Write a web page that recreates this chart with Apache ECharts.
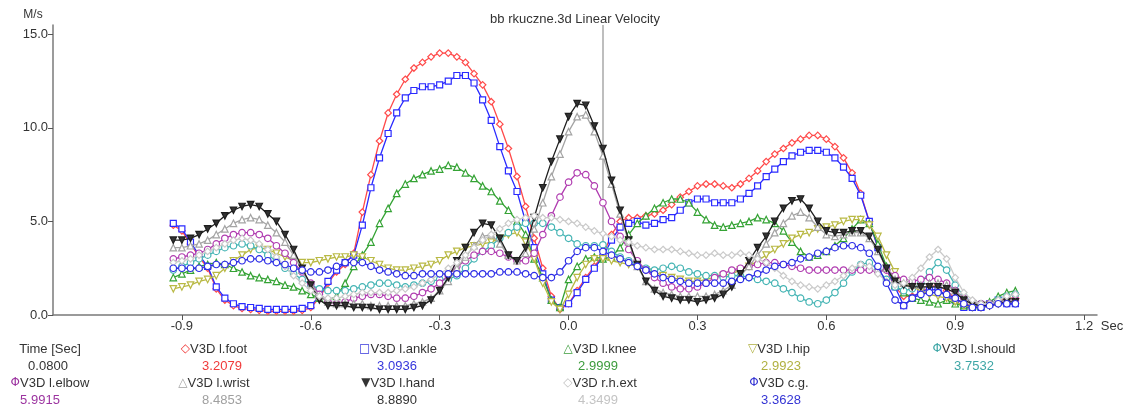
<!DOCTYPE html>
<html>
<head>
<meta charset="utf-8">
<script src="https://cdn.jsdelivr.net/npm/echarts@6/dist/echarts.min.js"></script>
<style>
  html, body { margin: 0; padding: 0; background: #fff; }
  #chart { width: 1132px; height: 407px; }
</style>
</head>
<body>
<div id="chart"></div>
<script>
// time samples (sec)
const times = [
  -0.92, -0.90, -0.88, -0.86, -0.84, -0.82, -0.80, -0.78, -0.76, -0.74,
  -0.72, -0.70, -0.68, -0.66, -0.64, -0.62, -0.60, -0.58, -0.56, -0.54,
  -0.52, -0.50, -0.48, -0.46, -0.44, -0.42, -0.40, -0.38, -0.36, -0.34,
  -0.32, -0.30, -0.28, -0.26, -0.24, -0.22, -0.20, -0.18, -0.16, -0.14,
  -0.12, -0.10, -0.08, -0.06, -0.04, -0.02, 0.00, 0.02, 0.04, 0.06,
  0.08, 0.10, 0.12, 0.14, 0.16, 0.18, 0.20, 0.22, 0.24, 0.26,
  0.28, 0.30, 0.32, 0.34, 0.36, 0.38, 0.40, 0.42, 0.44, 0.46,
  0.48, 0.50, 0.52, 0.54, 0.56, 0.58, 0.60, 0.62, 0.64, 0.66,
  0.68, 0.70, 0.72, 0.74, 0.76, 0.78, 0.80, 0.82, 0.84, 0.86,
  0.88, 0.90, 0.92, 0.94, 0.96, 0.98, 1.00, 1.02, 1.04
]

// linear velocity, M/s
const foot = [
  4.8, 4.5, 3.8, 3.1, 2.5, 1.4, 0.8, 0.5, 0.35, 0.3,
  0.25, 0.2, 0.2, 0.2, 0.2, 0.25, 0.4, 0.9, 1.7, 2.3,
  2.7, 3.3, 5.5, 7.5, 9.3, 10.8, 11.8, 12.6, 13.2, 13.5,
  13.8, 14.0, 14.0, 13.8, 13.5, 12.9, 12.3, 11.4, 10.2, 8.9,
  7.4, 5.8, 4.1, 2.5, 1.0, 0.3, 0.6, 1.3, 2.0, 2.6,
  3.2, 4.3, 5.0, 5.2, 5.2, 5.3, 5.4, 5.6, 5.9, 6.3,
  6.6, 6.9, 7.0, 7.0, 6.9, 6.8, 7.0, 7.3, 7.7, 8.2,
  8.6, 8.9, 9.2, 9.4, 9.6, 9.6, 9.4, 9.0, 8.4, 7.6,
  6.5, 5.0, 3.6, 2.4, 1.5, 1.0, 1.0, 1.2, 1.5, 1.6,
  1.3, 0.9, 0.6, 0.5, 0.4, 0.5, 0.8, 0.9, 0.9
]
const ankle = [
  4.9, 4.6, 3.9, 3.2, 2.6, 1.5, 0.9, 0.6, 0.45, 0.4,
  0.35, 0.3, 0.3, 0.3, 0.3, 0.35, 0.5, 1.0, 1.8, 2.4,
  2.8, 3.2, 4.8, 6.8, 8.4, 9.7, 10.8, 11.6, 12.0, 12.2,
  12.2, 12.3, 12.5, 12.8, 12.8, 12.4, 11.5, 10.4, 9.0, 7.7,
  6.6, 5.0, 3.6, 2.2, 0.8, 0.4, 0.6, 1.2, 1.9, 2.5,
  3.1, 4.0, 4.7, 4.9, 5.0, 4.8, 4.9, 5.1, 5.2, 5.6,
  6.0, 6.2, 6.2, 6.0, 6.0, 6.0, 6.2, 6.5, 6.9, 7.4,
  7.8, 8.2, 8.5, 8.7, 8.8, 8.8, 8.7, 8.4, 7.9, 7.3,
  6.4, 5.0, 3.6, 2.5, 1.5, 0.5, 0.9, 1.3, 1.3, 1.4,
  1.0, 0.8, 0.4, 0.4, 0.4, 0.6, 0.8, 0.6, 0.6
]
const knee = [
  2.0, 2.2, 2.4, 2.6, 2.7, 2.8, 2.7, 2.5, 2.3, 2.1,
  2.0, 1.9, 1.8, 1.6, 1.5, 1.3, 1.1, 0.9, 0.8, 1.0,
  1.7, 2.6, 3.2, 3.9, 4.9, 5.7, 6.5, 7.0, 7.3, 7.5,
  7.7, 7.8, 8.0, 7.9, 7.6, 7.3, 6.9, 6.6, 6.1, 5.6,
  5.0, 4.3, 3.0, 2.0, 0.8, 0.4, 1.9, 2.6, 3.0, 3.1,
  3.0, 3.1, 3.6, 4.3, 4.9, 5.3, 5.7, 6.0, 6.2, 6.2,
  6.0, 5.5, 5.1, 4.8, 4.7, 4.8, 4.9, 5.0, 5.2, 5.1,
  4.9, 4.5, 3.9, 3.4, 3.1, 3.2, 3.4, 3.7, 4.1, 4.6,
  5.1, 4.9, 3.8, 2.6, 1.6, 1.2, 0.9, 0.8, 0.7, 0.6,
  0.8, 0.6, 0.5, 0.5, 0.5, 0.7, 1.0, 1.2, 1.3
]
const hip = [
  1.4, 1.5, 1.6, 1.8, 1.9, 2.1, 2.5, 2.9, 3.2, 3.5,
  3.6, 3.5, 3.3, 3.1, 2.9, 2.8, 2.8, 2.9, 3.0, 3.1,
  3.1, 3.2, 3.1, 2.9, 2.7, 2.5, 2.4, 2.4, 2.5, 2.6,
  2.7, 2.9, 3.2, 3.4, 3.6, 3.7, 3.8, 3.9, 4.1, 4.3,
  4.4, 3.9, 3.0, 1.7, 0.7, 0.3, 1.1, 2.0, 2.7, 3.0,
  3.0, 2.9, 2.8, 2.7, 2.6, 2.4, 2.3, 2.1, 2.0, 1.9,
  1.8, 1.8, 1.9, 2.0, 2.1, 2.2, 2.4, 2.6, 2.9, 3.2,
  3.5, 3.8, 4.1, 4.3, 4.4, 4.6, 4.7, 4.8, 5.0, 5.1,
  5.1, 4.8, 4.2, 3.2, 2.3, 1.7, 1.5, 1.3, 1.1, 1.0,
  0.9, 0.7, 0.5, 0.4, 0.4, 0.5, 0.7, 0.8, 0.9
]
const should = [
  2.4, 2.6, 2.8, 3.0, 3.2, 3.4, 3.6, 3.7, 3.8, 3.7,
  3.5, 3.2, 2.9, 2.5, 2.2, 1.9, 1.6, 1.4, 1.3, 1.3,
  1.3, 1.4, 1.5, 1.6, 1.7, 1.7, 1.6, 1.5, 1.6, 1.7,
  1.8, 1.9, 1.9, 2.1, 2.5, 3.0, 3.4, 3.7, 4.1, 4.4,
  4.7, 4.9, 4.9, 4.9, 4.7, 4.4, 4.1, 3.8, 3.7, 3.7,
  3.75, 3.4, 3.1, 2.9, 2.7, 2.5, 2.4, 2.5, 2.6, 2.5,
  2.3, 2.2, 2.1, 2.1, 2.0, 2.1, 2.1, 2.0, 1.9, 1.8,
  1.7, 1.4, 1.2, 0.9, 0.7, 0.6, 0.8, 1.2, 1.7, 2.3,
  2.7, 2.8, 2.4, 1.9, 1.5, 1.3, 1.4, 1.7, 2.3, 2.8,
  2.4, 1.6, 1.0, 0.7, 0.6, 0.6, 0.8, 1.0, 1.1
]
const elbow = [
  3.0, 3.1, 3.2, 3.3, 3.5, 3.8, 4.1, 4.3, 4.4, 4.4,
  4.3, 4.1, 3.7, 3.3, 2.8, 2.3, 1.7, 1.1, 0.7, 0.6,
  0.7, 0.9, 1.0, 1.1, 1.1, 1.0, 0.9, 0.9, 1.0, 1.2,
  1.4, 1.7, 2.1, 2.6, 2.9, 3.2, 3.4, 3.4, 3.3, 3.1,
  2.9, 2.9, 3.3, 4.3, 5.3, 6.3, 7.1, 7.6, 7.5, 6.9,
  6.0, 5.0, 4.2, 3.5, 2.9, 2.4, 2.0, 1.7, 1.5, 1.4,
  1.4, 1.5, 1.7, 2.0, 2.2, 2.4, 2.5, 2.6, 2.7, 2.8,
  2.8, 2.7, 2.6, 2.5, 2.4, 2.4, 2.4, 2.4, 2.4, 2.4,
  2.4, 2.4, 2.3, 2.4, 2.1, 1.9, 1.8, 1.9, 2.0, 1.9,
  1.7, 1.3, 0.9, 0.7, 0.6, 0.6, 0.7, 0.8, 0.8
]
const wrist = [
  3.6, 3.6, 3.7, 3.8, 4.0, 4.3, 4.6, 4.9, 5.1, 5.2,
  5.1, 4.8, 4.4, 3.9, 3.2, 2.4, 1.6, 1.0, 0.7, 0.6,
  0.6, 0.6, 0.6, 0.5, 0.5, 0.5, 0.5, 0.5, 0.6, 0.7,
  0.9, 1.3, 1.8, 2.5, 3.1, 3.7, 4.2, 4.3, 3.8, 3.2,
  2.9, 3.3, 4.6, 6.0, 7.4, 8.6, 9.8, 10.6, 10.7, 9.8,
  8.5, 7.0, 5.4, 3.9, 2.6, 1.8, 1.4, 1.2, 1.1, 1.0,
  1.0, 1.0, 1.0, 1.1, 1.3, 1.6, 2.1, 2.6, 3.2, 3.8,
  4.4, 4.9, 5.3, 5.5, 5.2, 4.7, 4.3, 4.2, 4.3, 4.4,
  4.4, 4.1, 3.4, 2.5, 1.9, 1.7, 1.6, 1.6, 1.7, 1.7,
  1.6, 1.3, 0.9, 0.7, 0.6, 0.6, 0.7, 0.8, 0.8
]
const hand = [
  4.0, 4.0, 4.1, 4.3, 4.6, 4.9, 5.3, 5.6, 5.8, 5.9,
  5.8, 5.4, 5.0, 4.3, 3.5, 2.5, 1.6, 0.8, 0.5, 0.5,
  0.5, 0.4, 0.4, 0.4, 0.3, 0.3, 0.3, 0.3, 0.4, 0.5,
  0.8, 1.3, 2.0, 2.9, 3.6, 4.4, 4.9, 4.8, 4.1, 3.2,
  2.9, 3.6, 5.2, 6.8, 8.2, 9.4, 10.6, 11.3, 11.2, 10.1,
  8.9, 7.2, 5.6, 4.0, 2.7, 1.8, 1.3, 1.0, 0.9, 0.8,
  0.8, 0.7, 0.8, 0.9, 1.1, 1.5, 2.2, 2.9, 3.6, 4.2,
  5.0, 5.7, 6.1, 6.2, 5.7, 5.0, 4.5, 4.4, 4.4, 4.5,
  4.5, 4.2, 3.5, 2.5, 1.8, 1.6, 1.5, 1.5, 1.5, 1.5,
  1.4, 1.2, 0.8, 0.6, 0.5, 0.5, 0.6, 0.7, 0.7
]
const rhExt = [
  2.8, 2.9, 3.0, 3.2, 3.4, 3.6, 3.8, 4.0, 4.1, 4.0,
  3.8, 3.5, 3.1, 2.6, 2.1, 1.7, 1.3, 1.0, 0.9, 0.9,
  1.0, 1.1, 1.2, 1.2, 1.2, 1.2, 1.3, 1.4, 1.5, 1.7,
  1.9, 2.2, 2.5, 2.8, 3.2, 3.6, 4.0, 4.3, 4.6, 4.9,
  5.1, 5.2, 5.3, 5.2, 5.2, 5.1, 5.0, 4.9, 4.7, 4.5,
  4.35, 4.2, 4.0, 3.9, 3.7, 3.6, 3.5, 3.5, 3.5, 3.4,
  3.3, 3.2, 3.2, 3.3, 3.2, 3.2, 3.3, 3.2, 3.0, 2.8,
  2.5, 2.1, 1.8, 1.6, 1.5, 1.4, 1.6, 1.8, 2.1, 2.5,
  2.7, 2.6, 2.2, 1.8, 1.6, 1.7, 2.0, 2.5, 3.1, 3.5,
  3.0, 2.0, 1.2, 0.8, 0.6, 0.6, 0.8, 1.0, 1.1
]
const cg = [
  2.5, 2.5, 2.5, 2.5, 2.6, 2.7, 2.7, 2.8, 2.9, 3.0,
  3.0, 2.9, 2.8, 2.7, 2.5, 2.4, 2.3, 2.3, 2.4, 2.6,
  2.8, 2.8, 2.8, 2.6, 2.4, 2.3, 2.2, 2.1, 2.1, 2.2,
  2.2, 2.2, 2.2, 2.2, 2.2, 2.2, 2.2, 2.2, 2.3, 2.3,
  2.3, 2.2, 2.1, 2.0, 2.0, 2.3, 2.9, 3.4, 3.6, 3.6,
  3.4, 3.2, 3.0, 2.8, 2.6, 2.4, 2.2, 2.0, 1.9, 1.8,
  1.7, 1.7, 1.7, 1.7, 1.7, 1.8, 1.9, 2.0, 2.2, 2.4,
  2.6, 2.7, 2.8, 3.0, 3.1, 3.3, 3.4, 3.6, 3.7, 3.7,
  3.6, 3.3, 2.6, 1.7, 0.8, 0.5, 0.9, 1.1, 1.2, 1.2,
  1.1, 0.9, 0.6, 0.4, 0.4, 0.5, 0.6, 0.6, 0.6
]

// cursor readout
const cursorTime = 0.08
const cursorLabel = '0.0800'
const seriesNames = ['V3D l.foot', 'V3D l.ankle', 'V3D l.knee', 'V3D l.hip', 'V3D l.should',
  'V3D l.elbow', 'V3D l.wrist', 'V3D l.hand', 'V3D r.h.ext', 'V3D c.g.']
const cursorValues = ['3.2079', '3.0936', '2.9999', '2.9923', '3.7532',
  '5.9915', '8.4853', '8.8890', '4.3499', '3.3628']
const xTicks = [-0.9, -0.6, -0.3, 0, 0.3, 0.6, 0.9, 1.2]
const yTicks = [0, 5, 10, 15]

const seriesData = [foot, ankle, knee, hip, should, elbow, wrist, hand, rhExt, cg]
const lineColors = ['#ff4a4a', '#2a2aff', '#35a335', '#b9b944', '#44b4b4',
  '#b03cb0', '#a4a4a4', '#1e1e1e', '#cacaca', '#2c2ce6']
const textColors = ['#f03a3a', '#3636dc', '#3c9c3c', '#b0b040', '#3ea6a6',
  '#9c34a0', '#a0a0a0', '#333333', '#c4c4c4', '#3434d4']
const markers = ['diamond', 'rect', 'triangle', 'triangle', 'circle',
  'circle', 'triangle', 'triangle', 'diamond', 'circle']
const glyphs = ['◇', '□', '△', '▽', 'Φ', 'Φ', '△', '▼', '◇', 'Φ']

const font = '13px "Liberation Sans", Arial, sans-serif'

const series = seriesData.map((values, i) => ({
  name: seriesNames[i],
  type: 'line',
  data: values.map((v, j) => [times[j], v]),
  symbol: markers[i],
  symbolSize: markers[i] === 'rect' ? 6 : 6.5,
  symbolRotate: (i === 3 || i === 7) ? 180 : 0,
  lineStyle: { color: lineColors[i], width: 1.3 },
  itemStyle: {
    color: i === 7 ? '#333' : '#fff',
    borderColor: lineColors[i],
    borderWidth: 1.2
  },
  emphasis: { disabled: true },
  z: 2 + i
}))

series[0].markLine = {
  silent: true,
  symbol: 'none',
  label: { show: false },
  lineStyle: { color: '#a8a8a8', type: 'solid', width: 1.5 },
  data: [{ xAxis: cursorTime }]
}

// readout table under the plot
const colX = [50, 214, 398, 600, 779, 974]
const valX = [48, 222, 397, 598, 781, 974]
const rowY = [349, 366, 383, 400]
const cells = [
  { col: 0, row: 0, name: 'Time [Sec]', value: cursorLabel, color: '#333' }
]
seriesNames.forEach((name, i) => {
  const row = i < 5 ? 0 : 2
  const col = i < 5 ? i + 1 : i - 5
  cells.push({ col, row, name, value: cursorValues[i], color: textColors[i], glyph: glyphs[i] })
})
const table = []
cells.forEach((c) => {
  table.push({
    type: 'text',
    x: colX[c.col],
    y: rowY[c.row],
    style: {
      text: c.glyph ? `{g|${c.glyph}}${c.name}` : c.name,
      font,
      fill: '#333',
      align: 'center',
      verticalAlign: 'middle',
      rich: { g: { fill: c.color, font: '12px "DejaVu Sans", sans-serif' } }
    }
  })
  table.push({
    type: 'text',
    x: c.col === 0 && c.row === 2 ? 40 : valX[c.col],
    y: rowY[c.row + 1],
    style: { text: c.value, font, fill: c.color, align: 'center', verticalAlign: 'middle' }
  })
})

const chart = echarts.init(document.getElementById('chart'))
chart.setOption({
  animation: false,
  backgroundColor: '#fff',
  title: {
    text: 'bb rkuczne.3d Linear Velocity',
    left: 570,
    top: 8,
    textAlign: 'center',
    textStyle: { fontFamily: '"Liberation Sans", Arial', fontSize: 13, fontWeight: 'normal', color: '#333' }
  },
  grid: { left: 53, right: 35, top: 25, bottom: 92 },
  xAxis: {
    type: 'value',
    min: -1.2,
    max: 1.23,
    axisLine: { onZero: false, lineStyle: { color: '#7a7a7a', width: 1.5 } },
    axisTick: { customValues: xTicks, length: 5, lineStyle: { color: '#555' } },
    axisLabel: {
      customValues: xTicks,
      formatter: (v) => v.toFixed(1),
      color: '#333',
      fontFamily: '"Liberation Sans", Arial',
      fontSize: 13,
      margin: 5
    },
    splitLine: { show: false }
  },
  yAxis: {
    type: 'value',
    min: 0,
    max: 15.5,
    axisLine: { show: true, onZero: false, lineStyle: { color: '#7a7a7a', width: 1.5 } },
    axisTick: { show: true, customValues: yTicks, length: 5, lineStyle: { color: '#555' } },
    axisLabel: {
      customValues: yTicks,
      formatter: (v) => v.toFixed(1),
      color: '#333',
      fontFamily: '"Liberation Sans", Arial',
      fontSize: 13,
      margin: 5
    },
    splitLine: { show: false }
  },
  graphic: [
    { type: 'text', x: 33, y: 15, style: { text: 'M/s', font: '12px "Liberation Sans", Arial', fill: '#333', align: 'center', verticalAlign: 'middle' } },
    { type: 'text', x: 1112, y: 326, style: { text: 'Sec', font, fill: '#333', align: 'center', verticalAlign: 'middle' } },
    ...table
  ],
  series
})
</script>
</body>
</html>
